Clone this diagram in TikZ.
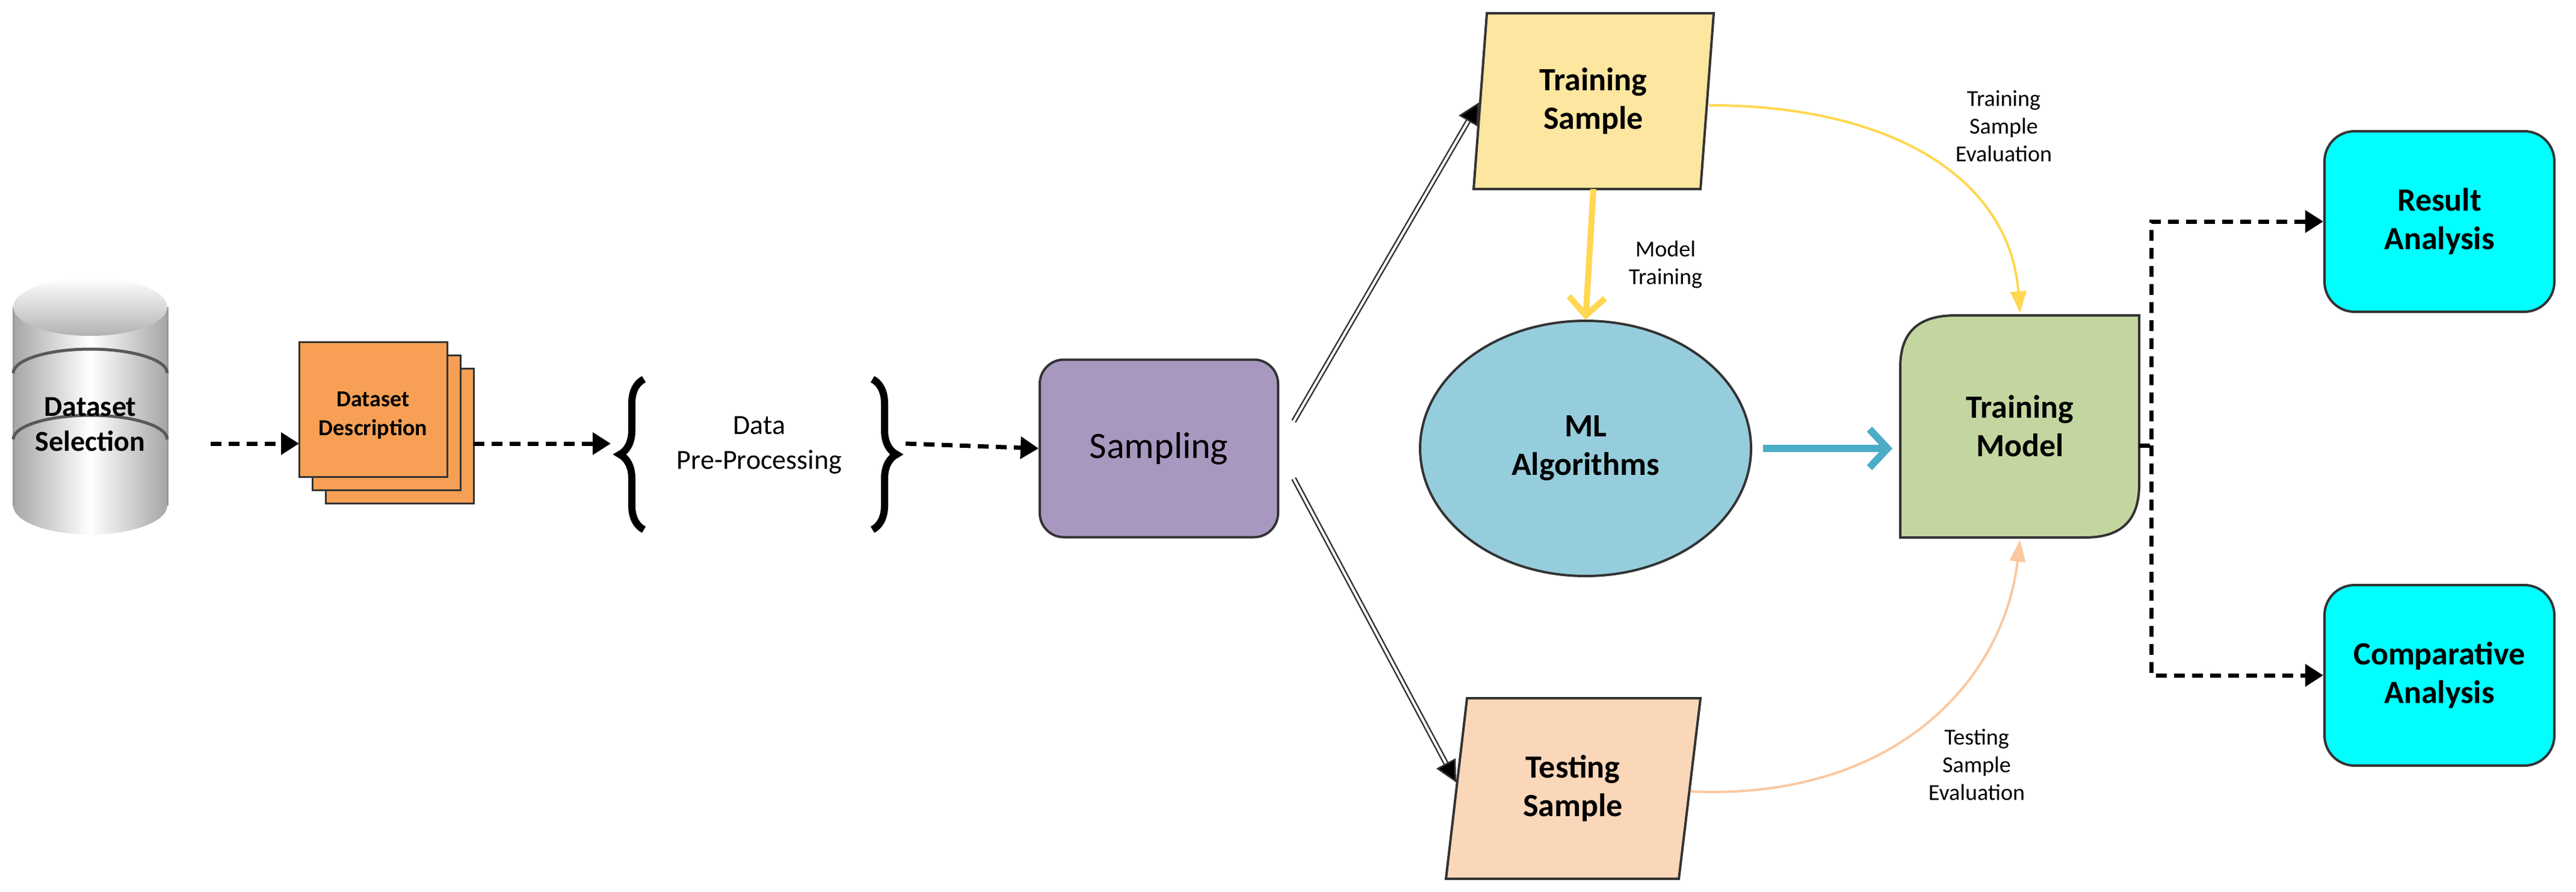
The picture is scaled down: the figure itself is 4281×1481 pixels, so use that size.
\documentclass[tikz,border=0pt]{standalone}
\usepackage{fontspec}
\setmainfont{Carlito}
\usetikzlibrary{arrows.meta,shapes.geometric,decorations.pathreplacing}
\definecolor{cyl}{RGB}{200,200,200}
\definecolor{dd}{RGB}{247,160,85}
\definecolor{samp}{RGB}{168,152,192}
\definecolor{trs}{RGB}{253,230,160}
\definecolor{tes}{RGB}{251,215,185}
\definecolor{mlc}{RGB}{150,205,220}
\definecolor{tm}{RGB}{196,214,160}
\definecolor{res}{RGB}{0,255,255}
\definecolor{yel}{RGB}{255,215,80}
\definecolor{peach}{RGB}{250,200,160}
\definecolor{blu}{RGB}{75,172,198}
\tikzset{
  big/.style={font=\fontsize{54}{64}\selectfont\bfseries,align=center},
  med/.style={font=\fontsize{48}{58}\selectfont\bfseries,align=center},
  small/.style={font=\fontsize{38}{46}\selectfont,align=center},
  shp/.style={draw=black!80,line width=4pt},
  dsh/.style={line width=7pt,dash pattern=on 18pt off 12pt,-{Triangle[length=30pt,width=36pt]}},
  dbl/.style={double=white,double distance=4pt,line width=2.5pt,draw=black!80,-{Triangle[length=36pt,width=36pt,fill=black]}},
}
\begin{document}
\begin{tikzpicture}[x=1pt,y=-1pt]
\useasboundingbox (0,0) rectangle (4281,1481);
% cylinder
\shade[left color=gray!70,right color=gray!70,middle color=white] (22,510) rectangle (278,840);
\shade[left color=gray!70,right color=gray!70,middle color=white] (150,840) ellipse (128 and 48);
\draw[gray!80,line width=3pt] (22,510) -- (22,840) (278,510) -- (278,840);
\foreach \yy in {620,730}{\draw[gray!70!black,line width=5pt] (22,\yy) arc[start angle=180,end angle=360,x radius=128,y radius=40];}
\shade[top color=white,bottom color=gray!60] (150,510) ellipse (128 and 48);
\node[med] (ds) at (150,705) {Dataset\\Selection};
% dataset description stack
\foreach \o in {44,22}{\draw[shp,line width=3pt,fill=dd] (497+\o,568+\o) rectangle (743+\o,792+\o);}
\draw[shp,line width=3pt,fill=dd] (497,568) rectangle (743,792);
\node[font=\fontsize{38}{48}\selectfont\bfseries,align=center] (dd) at (620,690) {Dataset\\Description};
\coordinate (ddl) at (497,737);
\coordinate (ddr) at (787,737);
% braces
\node[small,font=\fontsize{46}{58}\selectfont] (pp) at (1262,740) {Data\\Pre-Processing};
\draw[line width=12pt,decorate,decoration={brace,amplitude=40pt}] (1070,880) -- (1070,630);
\draw[line width=12pt,decorate,decoration={brace,amplitude=40pt}] (1450,630) -- (1450,880);
\coordinate (bl) at (1015,737);
\coordinate (br) at (1505,737);
% sampling
\node[shp,fill=samp,rounded corners=40pt,minimum width=396pt,minimum height=295pt,font=\fontsize{62}{70}\selectfont] (samp) at (1926,745) {Sampling};
% training sample
\draw[shp,fill=trs] (2471,22) -- (2848,22) -- (2826,314) -- (2449,314) -- cycle;
\node[big] (trs) at (2648,168) {Training\\Sample};
% testing sample
\draw[shp,fill=tes] (2438,1160) -- (2826,1160) -- (2790,1460) -- (2403,1460) -- cycle;
\node[big] (tes) at (2614,1310) {Testing\\Sample};
% ML
\node[shp,ellipse,fill=mlc,minimum width=550pt,minimum height=424pt,big] (ml) at (2635,745) {ML\\Algorithms};
% training model
\draw[shp,fill=tm] (3158,893) -- (3158,610) .. controls (3158,550) and (3190,524) .. (3250,524) -- (3555,524) -- (3555,805) .. controls (3555,865) and (3525,893) .. (3465,893) -- cycle;
\node[big] (tm) at (3357,708) {Training\\Model};
% result/comparative
\node[shp,fill=res,rounded corners=50pt,minimum width=382pt,minimum height=300pt,big] (ra) at (4054,368) {Result\\Analysis};
\node[shp,fill=res,rounded corners=50pt,minimum width=382pt,minimum height=300pt,big] (ca) at (4054,1122) {Comparative\\Analysis};
% dashed connectors
\coordinate (dsr) at (350,737);
\draw[dsh] (dsr) -- (ddl);
\draw[dsh] (ddr) -- (bl);
\draw[dsh] (br) -- (samp.west);
\coordinate (tmr) at (3555,740);
\coordinate (j) at (3575,740);
\draw[dsh] (tmr) -- (j) |- (ra.west);
\draw[dsh] (j) |- (ca.west);
% sampling split
\coordinate (s1) at (2150,700);
\coordinate (s2) at (2150,795);
\coordinate (t1) at (2458,170);
\coordinate (t2) at (2420,1300);
\draw[dbl] (s1) -- (t1);
\draw[dbl] (s2) -- (t2);
% model training
\coordinate (trb) at (2648,314);
\draw[yel,line width=10pt,-{Straight Barb[length=30pt,width=60pt]}] (trb) -- (ml.north);
\node[small] (mtl) at (2768,440) {Model\\Training};
% ML to TM
\coordinate (mle) at (2930,745);
\coordinate (tml) at (3145,745);
\draw[blu,line width=12pt,-{Straight Barb[length=30pt,width=64pt]}] (mle) -- (tml);
% evaluations
\coordinate (tre) at (2840,175);
\coordinate (tmt) at (3357,520);
\draw[yel,line width=4pt,-{Triangle[length=36pt,width=26pt]}] (tre) .. controls (3150,175) and (3340,300) .. (tmt);
\node[small] (tsel) at (3330,210) {Training\\Sample\\Evaluation};
\coordinate (tee) at (2810,1315);
\coordinate (tmb) at (3357,897);
\draw[peach,line width=4pt,-{Triangle[length=36pt,width=26pt]}] (tee) .. controls (3150,1330) and (3330,1130) .. (tmb);
\node[small] (tesl) at (3285,1270) {Testing\\Sample\\Evaluation};
\end{tikzpicture}
\end{document}
